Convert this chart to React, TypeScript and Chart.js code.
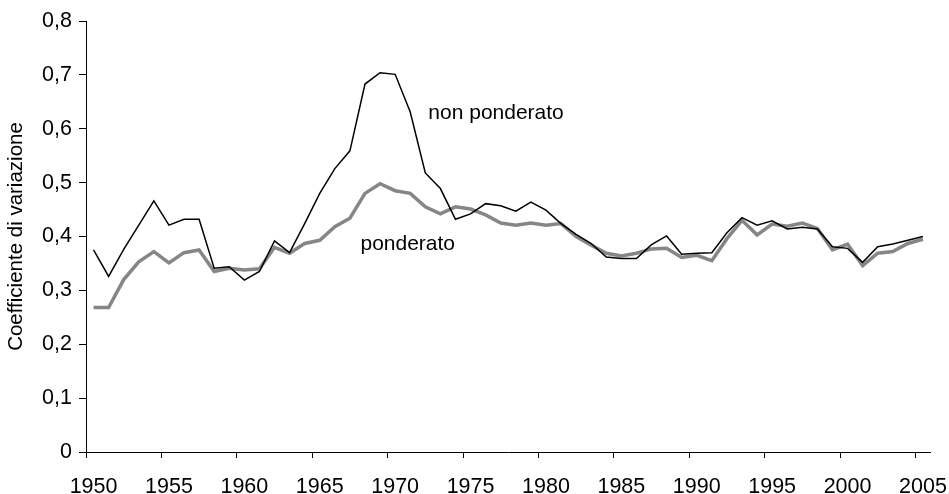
import React, { useEffect, useRef } from "react";
import { Chart, registerables } from "chart.js";

Chart.register(...registerables);

const years = [
  "1950", "1951", "1952", "1953", "1954", "1955", "1956", "1957", "1958", "1959",
  "1960", "1961", "1962", "1963", "1964", "1965", "1966", "1967", "1968", "1969",
  "1970", "1971", "1972", "1973", "1974", "1975", "1976", "1977", "1978", "1979",
  "1980", "1981", "1982", "1983", "1984", "1985", "1986", "1987", "1988", "1989",
  "1990", "1991", "1992", "1993", "1994", "1995", "1996", "1997", "1998", "1999",
  "2000", "2001", "2002", "2003", "2004", "2005",
];

const nonPonderato = [
  0.375, 0.326, 0.376, 0.421, 0.466, 0.421, 0.432, 0.432, 0.341, 0.344,
  0.319, 0.335, 0.392, 0.370, 0.424, 0.480, 0.526, 0.559, 0.683, 0.704,
  0.701, 0.631, 0.518, 0.489, 0.432, 0.442, 0.461, 0.457, 0.447, 0.464,
  0.449, 0.424, 0.404, 0.387, 0.362, 0.359, 0.359, 0.385, 0.401, 0.367,
  0.369, 0.370, 0.407, 0.435, 0.421, 0.429, 0.414, 0.417, 0.414, 0.381,
  0.378, 0.352, 0.381, 0.386, 0.393, 0.400,
];

const ponderato = [
  0.268, 0.268, 0.320, 0.353, 0.372, 0.351, 0.370, 0.375, 0.335, 0.341,
  0.338, 0.340, 0.380, 0.369, 0.387, 0.393, 0.418, 0.434, 0.480, 0.498,
  0.485, 0.480, 0.455, 0.442, 0.455, 0.451, 0.440, 0.425, 0.421, 0.425,
  0.421, 0.424, 0.400, 0.384, 0.369, 0.364, 0.369, 0.377, 0.378, 0.361,
  0.365, 0.355, 0.396, 0.430, 0.403, 0.423, 0.419, 0.425, 0.415, 0.375,
  0.386, 0.346, 0.369, 0.372, 0.387, 0.395,
];

const seriesNames = ["non ponderato", "ponderato"];
const yAxisTitle = "Coefficiente di variazione";

// annotation anchors in data coordinates: category index, value
const labelAnchors = [
  { text: "non ponderato", index: 22.2, value: 0.629 },
  { text: "ponderato", index: 17.7, value: 0.386 },
];

const FONT = '"Liberation Sans", Arial, sans-serif';

export default function App() {
  const canvasRef = useRef<HTMLCanvasElement | null>(null);

  useEffect(() => {
    const canvas = canvasRef.current;
    if (!canvas) return;

    const annotationPlugin = {
      id: "lineLabels",
      afterDatasetsDraw(chart: any) {
        const { ctx, scales } = chart;
        const xs = scales.x;
        const ys = scales.y;
        const step = xs.getPixelForValue(1) - xs.getPixelForValue(0);
        ctx.save();
        ctx.font = `21px ${FONT}`;
        ctx.fillStyle = "#000";
        ctx.textAlign = "left";
        ctx.textBaseline = "middle";
        for (const a of labelAnchors) {
          const x = xs.getPixelForValue(0) + a.index * step;
          const y = ys.getPixelForValue(a.value);
          ctx.fillText(a.text, x, y);
        }
        ctx.restore();
      },
    };

    const chart = new Chart(canvas, {
      type: "line",
      data: {
        labels: years,
        datasets: [
          {
            label: seriesNames[0],
            data: nonPonderato,
            borderColor: "#000000",
            borderWidth: 1.5,
            pointRadius: 0,
            tension: 0,
            fill: false,
          },
          {
            label: seriesNames[1],
            data: ponderato,
            borderColor: "#868686",
            borderWidth: 3.5,
            pointRadius: 0,
            tension: 0,
            fill: false,
          },
        ],
      },
      options: {
        responsive: false,
        animation: false,
        devicePixelRatio: 1,
        layout: { padding: { top: 21, right: 18.5, bottom: 0, left: 0 } },
        plugins: {
          legend: { display: false },
          tooltip: { enabled: false },
        },
        scales: {
          x: {
            type: "category",
            offset: true,
            border: { display: true, color: "#000", width: 1 },
            grid: {
              offset: true,
              drawOnChartArea: false,
              drawTicks: true,
              tickLength: 6,
              tickWidth: 1,
              tickColor: (ctx: any) =>
                typeof ctx.index === "number" && ctx.index % 5 === 0 ? "#000" : "rgba(0,0,0,0)",
            },
            ticks: {
              autoSkip: false,
              maxRotation: 0,
              minRotation: 0,
              padding: 16,
              color: "#000",
              font: { family: FONT, size: 21.5 },
              callback: (_v: any, i: number) => (i % 5 === 0 ? years[i] : ""),
            },
            afterFit: (scale: any) => {
              scale.height = 42;
              scale.paddingLeft = 0;
              scale.paddingRight = 0;
            },
          },
          y: {
            min: 0,
            max: 0.8,
            border: { display: true, color: "#000", width: 1 },
            grid: {
              drawOnChartArea: false,
              drawTicks: true,
              tickLength: 7,
              tickColor: "#000",
            },
            ticks: {
              stepSize: 0.1,
              padding: 7,
              color: "#000",
              font: { family: FONT, size: 21.5 },
              callback: (v: any) => {
                const n = Number(v);
                if (Math.abs(n) < 1e-9) return "0";
                return n.toFixed(1).replace(".", ",");
              },
            },
            title: {
              display: true,
              text: yAxisTitle,
              color: "#000",
              font: { family: FONT, size: 20.5 },
              padding: { top: 4, bottom: 4 },
            },
            afterFit: (scale: any) => {
              scale.width = 86;
              scale.paddingTop = 0;
              scale.paddingBottom = 0;
            },
          },
        },
      },
      plugins: [annotationPlugin],
    });

    return () => {
      chart.destroy();
    };
  }, []);

  return (
    <div style={{ position: "absolute", left: 0, top: 0, width: 949, height: 494, background: "#fff" }}>
      <canvas ref={canvasRef} width={949} height={494} style={{ width: 949, height: 494, display: "block" }} />
    </div>
  );
}
